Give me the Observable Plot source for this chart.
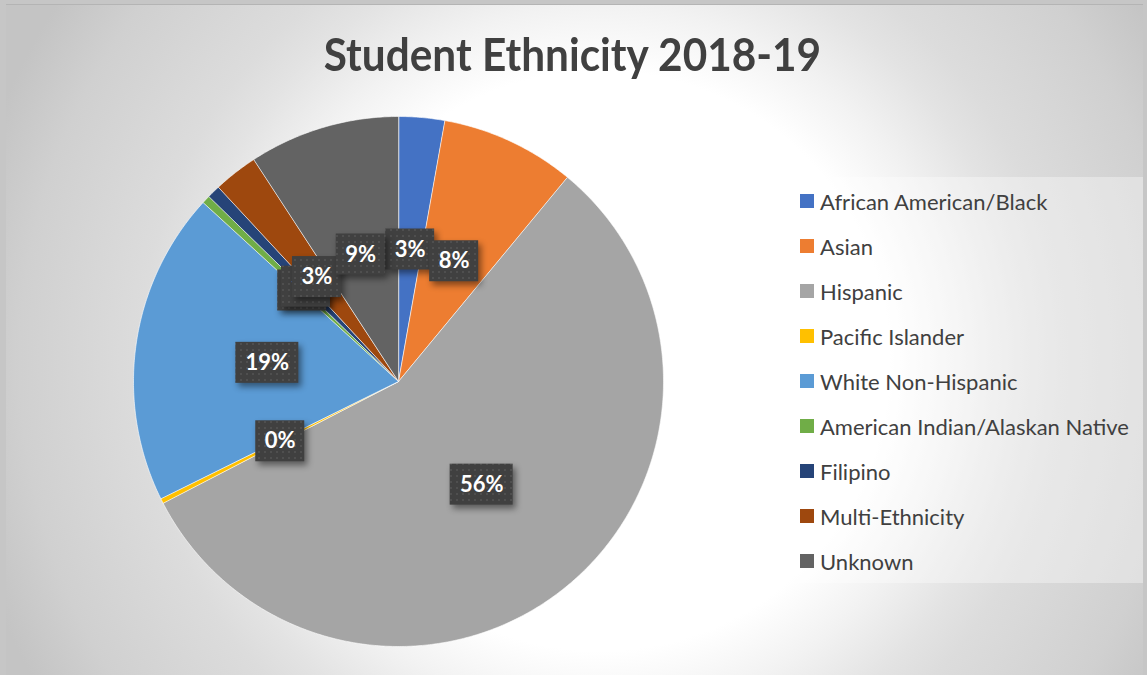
<!DOCTYPE html>
<html>
<head>
<meta charset="utf-8">
<script src="https://cdn.jsdelivr.net/npm/d3@7"></script>
<script src="https://cdn.jsdelivr.net/npm/@observablehq/plot@0.6"></script>
<style>
  body { margin: 0; background: #c6c6c6; }
  #root { position: relative; width: 1147px; height: 675px; overflow: hidden; font-family: Lato, "Noto Sans", sans-serif; background: #c6c6c6; }
  #area { position: absolute; left: 6px; top: 4px; width: 1137px; height: 671px; border-top: 1px solid #b4b4b4; box-sizing: border-box;
    background: radial-gradient(circle 720px at 594px 356px, #ffffff 290px, #f2f2f2 355px, #e3e3e3 420px, #dcdcdc 460px, #d0d0d0 580px, #c4c4c4 650px); }
  #title { position: absolute; left: 6px; width: 1133px; top: 31px; text-align: center; font-weight: bold; font-size: 46px; color: #404040; line-height: 1; white-space: nowrap; transform: scaleX(0.92); }
  #chart { position: absolute; left: 118px; top: 101px; }
  #legend { position: absolute; left: 787px; top: 177px; width: 356px; height: 406px; background: rgba(255,255,255,0.35); }
  .item { position: absolute; left: 13px; height: 24px; display: flex; align-items: center; font-size: 22px; color: #404040; white-space: nowrap; }
  .sw { width: 14px; height: 14px; margin-right: 6px; flex: none; }
</style>
</head>
<body>
<div id="root">
  <div id="area"></div>
  <div id="title">Student Ethnicity 2018-19</div>
  <div id="chart"></div>
  <div id="legend"></div>
</div>
<script>
// ---- data ----
const names = ["African American/Black", "Asian", "Hispanic", "Pacific Islander", "White Non-Hispanic", "American Indian/Alaskan Native", "Filipino", "Multi-Ethnicity", "Unknown"];
const values = [2.8, 8.2, 56.4, 0.3, 19.1, 0.5, 0.8, 2.7, 9.2];
const colors = ["#4472C4", "#ED7D31", "#A5A5A5", "#FFC000", "#5B9BD5", "#70AD47", "#264478", "#9E480E", "#636363"];
const titleText = "Student Ethnicity 2018-19";
document.getElementById("title").textContent = titleText;

// ---- slices ----
const total = d3.sum(values);
let cum = 0;
const slices = names.map((name, i) => {
  const a0 = cum / total * 2 * Math.PI;
  cum += values[i];
  const a1 = cum / total * 2 * Math.PI;
  return {name, value: values[i], a0, a1};
});
const wedgePts = slices.flatMap(s => {
  const pts = [{name: s.name, x: 0, y: 0}];
  const n = Math.max(2, Math.ceil((s.a1 - s.a0) / (Math.PI / 360)));
  for (let k = 0; k <= n; k++) {
    const a = s.a0 + (s.a1 - s.a0) * k / n;
    pts.push({name: s.name, x: Math.sin(a), y: Math.cos(a)});
  }
  return pts;
});
const labels = slices.map(s => {
  const m = (s.a0 + s.a1) / 2;
  return {name: s.name, lx: 0.5 * Math.sin(m), ly: 0.5 * Math.cos(m), text: Math.round(s.value / total * 100) + "%"};
});
const pxPerUnit = 265;
const labelMarks = labels.flatMap(l => {
  const w = (21 + 14 * l.text.length) / 2 / pxPerUnit;
  const h = 41 / 2 / pxPerUnit;
  return [
    Plot.rect([l], {x1: d => d.lx - w, x2: d => d.lx + w, y1: d => d.ly - h, y2: d => d.ly + h, fill: "url(#dots)"}),
    Plot.text([l], {x: "lx", y: "ly", text: "text", fill: "white", fontSize: 22, fontWeight: "bold", fontFamily: "Lato, 'Noto Sans', sans-serif"})
  ];
});

const svg = Plot.plot({
  width: 560, height: 560, margin: 15,
  style: {background: "transparent", overflow: "visible"},
  x: {domain: [-1, 1], axis: null},
  y: {domain: [-1, 1], axis: null},
  color: {domain: names, range: colors},
  marks: [
    Plot.line(wedgePts, {x: "x", y: "y", z: "name", fill: "name", stroke: "white", strokeWidth: 1, strokeOpacity: 0.6, curve: "linear-closed"}),
    ...labelMarks
  ]
});
const defs = d3.select(svg).insert("defs", ":first-child");
const pat = defs.append("pattern").attr("id", "dots").attr("patternUnits", "userSpaceOnUse").attr("width", 6).attr("height", 6);
pat.append("rect").attr("width", 6).attr("height", 6).attr("fill", "#404040");
pat.append("rect").attr("x", 2).attr("y", 2).attr("width", 2).attr("height", 2).attr("fill", "#4f4f4f");
d3.select(svg).selectAll('g[aria-label="rect"] rect').style("filter", "drop-shadow(3px 4px 3px rgba(0,0,0,0.45))");
document.getElementById("chart").appendChild(svg);

// ---- legend ----
const legend = d3.select("#legend");
names.forEach((n, i) => {
  const it = legend.append("div").attr("class", "item").style("top", (12 + 45 * i) + "px");
  it.append("div").attr("class", "sw").style("background", colors[i]);
  it.append("span").text(n);
});
</script>
</body>
</html>
